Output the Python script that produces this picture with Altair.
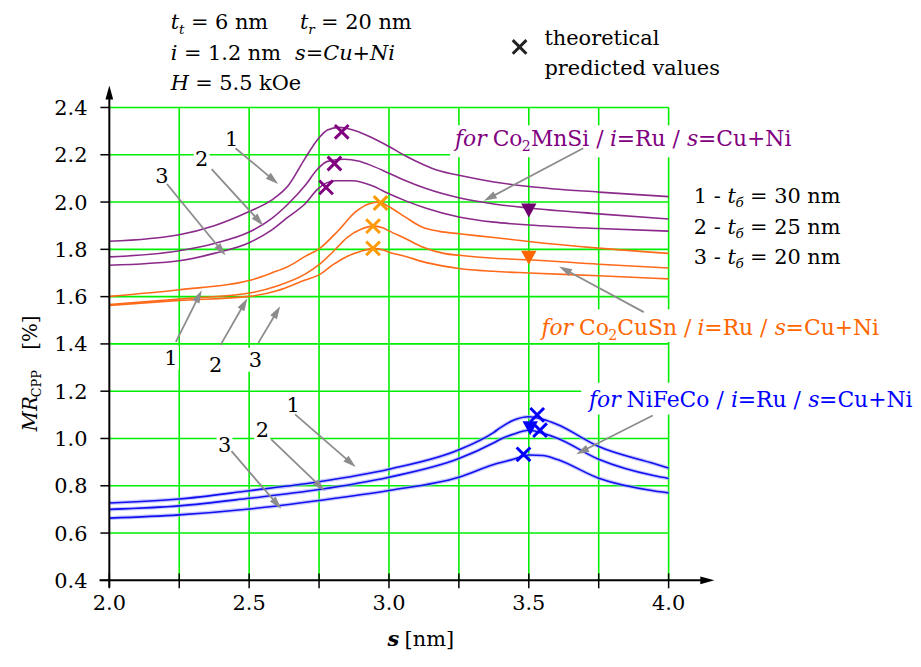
import math
import altair as alt
import pandas as pd

# ---------------- chart values ----------------
# Co2MnSi / i=Ru / s=Cu+Ni  (purple); curves 1, 2, 3 : t_b = 30, 25, 20 nm
s_mnsi_1 = [2.0, 2.25, 2.375, 2.5, 2.58, 2.64, 2.70, 2.745, 2.78, 2.82, 2.88, 2.94, 3.0, 3.06, 3.12, 3.18, 3.25, 3.375, 3.5, 3.75, 4.0]
mr_mnsi_1 = [1.834, 1.862, 1.900, 1.960, 2.008, 2.070, 2.185, 2.265, 2.305, 2.316, 2.302, 2.272, 2.235, 2.195, 2.160, 2.132, 2.113, 2.085, 2.066, 2.042, 2.023]
s_mnsi_2 = [2.0, 2.25, 2.375, 2.5, 2.58, 2.64, 2.70, 2.745, 2.78, 2.84, 2.89, 2.94, 3.0, 3.06, 3.13, 3.25, 3.375, 3.5, 3.75, 4.0]
mr_mnsi_2 = [1.768, 1.794, 1.825, 1.873, 1.930, 1.993, 2.070, 2.140, 2.172, 2.181, 2.174, 2.153, 2.122, 2.090, 2.058, 2.018, 1.992, 1.975, 1.950, 1.928]
s_mnsi_3 = [2.0, 2.25, 2.375, 2.5, 2.58, 2.64, 2.70, 2.745, 2.775, 2.81, 2.87, 2.94, 3.0, 3.06, 3.13, 3.25, 3.375, 3.5, 3.75, 4.0]
mr_mnsi_3 = [1.733, 1.752, 1.783, 1.828, 1.881, 1.937, 1.993, 2.055, 2.080, 2.090, 2.090, 2.069, 2.035, 2.005, 1.975, 1.937, 1.915, 1.903, 1.888, 1.877]

# Co2CuSn / i=Ru / s=Cu+Ni  (orange)
s_cusn_1 = [2.0, 2.25, 2.5, 2.58, 2.64, 2.70, 2.75, 2.82, 2.88, 2.93, 2.965, 3.0, 3.06, 3.12, 3.18, 3.25, 3.375, 3.5, 3.75, 4.0]
mr_cusn_1 = [1.601, 1.629, 1.668, 1.700, 1.728, 1.770, 1.802, 1.881, 1.958, 1.993, 2.000, 1.980, 1.935, 1.893, 1.876, 1.866, 1.850, 1.833, 1.805, 1.783]
s_cusn_2 = [2.0, 2.25, 2.5, 2.6, 2.7, 2.75, 2.8, 2.85, 2.9, 2.945, 2.98, 3.0, 3.06, 3.12, 3.2, 3.25, 3.375, 3.5, 3.75, 4.0]
mr_cusn_2 = [1.567, 1.590, 1.615, 1.645, 1.695, 1.735, 1.790, 1.850, 1.885, 1.898, 1.890, 1.878, 1.845, 1.810, 1.782, 1.775, 1.762, 1.756, 1.737, 1.721]
s_cusn_3 = [2.0, 2.25, 2.5, 2.6, 2.7, 2.75, 2.8, 2.85, 2.9, 2.945, 2.98, 3.0, 3.06, 3.12, 3.2, 3.25, 3.375, 3.5, 3.75, 4.0]
mr_cusn_3 = [1.563, 1.584, 1.601, 1.625, 1.670, 1.692, 1.735, 1.770, 1.792, 1.803, 1.797, 1.788, 1.770, 1.748, 1.728, 1.719, 1.707, 1.700, 1.688, 1.675]

# NiFeCo / i=Ru / s=Cu+Ni  (blue)
s_nfc_1 = [2.0, 2.25, 2.5, 2.75, 3.0, 3.25, 3.375, 3.40, 3.445, 3.5, 3.55, 3.6, 3.75, 3.95, 4.0]
mr_nfc_1 = [0.727, 0.744, 0.779, 0.817, 0.870, 0.952, 1.026, 1.047, 1.077, 1.092, 1.081, 1.060, 0.966, 0.893, 0.875]
s_nfc_2 = [2.0, 2.25, 2.5, 2.75, 3.0, 3.25, 3.375, 3.40, 3.445, 3.5, 3.55, 3.6, 3.75, 3.95, 4.0]
mr_nfc_2 = [0.700, 0.715, 0.747, 0.784, 0.836, 0.915, 0.982, 0.998, 1.018, 1.035, 1.022, 1.002, 0.912, 0.842, 0.831]
s_nfc_3 = [2.0, 2.25, 2.5, 2.75, 3.0, 3.25, 3.375, 3.445, 3.5, 3.55, 3.6, 3.75, 3.95, 4.0]
mr_nfc_3 = [0.663, 0.677, 0.702, 0.738, 0.780, 0.836, 0.890, 0.912, 0.930, 0.928, 0.912, 0.832, 0.778, 0.770]

# theoretical predicted values (crosses)
cross_mnsi_s = [2.831, 2.805, 2.775]
cross_mnsi_mr = [2.297, 2.163, 2.062]
cross_cusn_s = [2.970, 2.943, 2.943]
cross_cusn_mr = [1.996, 1.898, 1.804]
cross_nfc_s = [3.530, 3.540, 3.481]
cross_nfc_mr = [1.100, 1.035, 0.933]

# measured points (down triangles)
tri_s = [3.500, 3.500, 3.505]
tri_mr = [1.966, 1.766, 1.045]

x_ticks = [2.0, 2.25, 2.5, 2.75, 3.0, 3.25, 3.5, 3.75, 4.0]
x_tick_labels = ["2.0", "2.5", "3.0", "3.5", "4.0"]
y_ticks = [0.4, 0.6, 0.8, 1.0, 1.2, 1.4, 1.6, 1.8, 2.0, 2.2, 2.4]
y_tick_labels = ["0.4", "0.6", "0.8", "1.0", "1.2", "1.4", "1.6", "1.8", "2.0", "2.2", "2.4"]

# ---------------- styling / layout ----------------
W, H = 563, 476
PXX = W / 2.0   # px per nm
PXY = H / 2.0   # px per %
FONT = "DejaVu Serif"
GREEN = "#00EE00"
PURPLE_L, PURPLE_M = "#8A2A8A", "#800080"
ORANGE_L, ORANGE_M, ORANGE_X = "#FF6A1A", "#FF6600", "#FF9A00"
BLUE_L, BLUE_M = "#1010F0", "#0000FF"
GRAY = "#8C8C8C"

XS = alt.Scale(domain=[2.0, 4.0], nice=False, zero=False)
YS = alt.Scale(domain=[0.4, 2.4], nice=False, zero=False)


def X(f="x"):
    return alt.X(f"{f}:Q", scale=XS, axis=None)


def Y(f="y"):
    return alt.Y(f"{f}:Q", scale=YS, axis=None)


EM = {' ': 0.318, '.': 0.318, '/': 0.337, '=': 0.838, '+': 0.838, '-': 0.338, '[': 0.390, ']': 0.390,
      '%': 0.950, 'C': 0.734, 'M': 0.996, 'N': 0.837, 'R': 0.770, 'S': 0.685, 'F': 0.720, 'O': 0.820,
      'H': 0.872, 'P': 0.660, 'a': 0.596, 'c': 0.560, 'd': 0.640, 'e': 0.592, 'f': 0.370, 'h': 0.640,
      'i': 0.320, 'k': 0.617, 'l': 0.320, 'm': 0.948, 'n': 0.640, 'o': 0.602, 'p': 0.640, 'r': 0.478,
      's': 0.513, 't': 0.402, 'u': 0.640, 'v': 0.565, 'б': 0.602}
for d in "0123456789":
    EM[d] = 0.636


def tw(s, size):
    return sum(EM.get(c, 0.6) for c in s) * size


rows = []


def add(x, y, text, size, color="black", style="normal", weight="normal", align="left", angle=0):
    rows.append(dict(x=x, y=y, text=text, size=size, color=color, style=style,
                     weight=weight, align=align, angle=angle))


def rich(x0, y0, segs, size=21, color="black", rot=False):
    off = 0.0
    for text, kind in segs:
        sub = kind in ("sub", "isub")
        s = size * 0.65 if sub else size
        style = "italic" if kind in ("i", "isub", "bi") else "normal"
        weight = "bold" if kind == "bi" else "normal"
        drop = size * 0.22 if sub else 0.0
        lead = len(text) - len(text.lstrip(" "))
        o = off + lead * EM[' '] * s
        if rot:
            add(x0 + drop / PXX, y0 + o / PXY, text.strip(), s, color, style, weight, "left", 270)
        else:
            add(x0 + o / PXX, y0 - drop / PXY, text.strip(), s, color, style, weight, "left", 0)
        off += tw(text, s) * (1.0 if style == "normal" else 0.97)


# top-left parameters
rich(2.220, 2.732, [("t", "i"), ("t", "isub"), (" = 6 nm", "n")])
rich(2.682, 2.732, [("t", "i"), ("r", "isub"), (" = 20 nm", "n")])
rich(2.220, 2.602, [("i", "i"), (" = 1.2 nm", "n")])
rich(2.664, 2.602, [("s=Cu+Ni", "i")])
rich(2.220, 2.476, [("H", "i"), (" = 5.5 kOe", "n")])
# legend
rich(3.556, 2.665, [("theoretical", "n")])
rich(3.556, 2.539, [("predicted values", "n")])
# thickness legend on the right
for lab, yy, tb in [("1", 1.997, "30"), ("2", 1.866, "25"), ("3", 1.740, "20")]:
    rich(4.090, yy, [(lab + " - ", "n"), ("t", "i"), ("б", "isub"), (" = " + tb + " nm", "n")])
# family labels
rich(3.236, 2.236, [("for", "i"), (" Co", "n"), ("2", "sub"), ("MnSi / ", "n"), ("i", "i"),
                    ("=Ru / ", "n"), ("s", "i"), ("=Cu+Ni", "n")], size=22, color=PURPLE_M)
rich(3.545, 1.438, [("for", "i"), (" Co", "n"), ("2", "sub"), ("CuSn / ", "n"), ("i", "i"),
                    ("=Ru / ", "n"), ("s", "i"), ("=Cu+Ni", "n")], size=22, color=ORANGE_M)
rich(3.715, 1.135, [("for", "i"), (" NiFeCo / ", "n"), ("i", "i"),
                    ("=Ru / ", "n"), ("s", "i"), ("=Cu+Ni", "n")], size=22, color=BLUE_M)
# axis titles
rich(1.7407, 1.030, [("MR", "i"), ("CPP", "sub")], size=20, rot=True)
rich(1.7407, 1.375, [("[%]", "n")], size=20, rot=True)
rich(2.995, 0.124, [("s", "bi"), (" [nm]", "n")], size=21)

# curve number labels (centres)
num_labels = [("1", 2.437, 2.270), ("2", 2.330, 2.182), ("3", 2.188, 2.110),
              ("1", 2.220, 1.341), ("2", 2.380, 1.312), ("3", 2.522, 1.333),
              ("1", 2.657, 1.144), ("2", 2.547, 1.039), ("3", 2.412, 0.976)]
for t, xx, yy in num_labels:
    add(xx, yy - 7.5 / PXY, t, 21, align="center")

# tick labels
for lab in x_tick_labels:
    add(float(lab), 0.4 - 30 / PXY, lab, 21, align="center")
for lab in y_tick_labels:
    add(1.922, float(lab) - 7.5 / PXY, lab, 21, align="right")

# ---------------- frames ----------------
curves = [("mnsi", s_mnsi_1, mr_mnsi_1, PURPLE_L), ("mnsi", s_mnsi_2, mr_mnsi_2, PURPLE_L),
          ("mnsi", s_mnsi_3, mr_mnsi_3, PURPLE_L), ("cusn", s_cusn_1, mr_cusn_1, ORANGE_L),
          ("cusn", s_cusn_2, mr_cusn_2, ORANGE_L), ("cusn", s_cusn_3, mr_cusn_3, ORANGE_L),
          ("nfc", s_nfc_1, mr_nfc_1, BLUE_L), ("nfc", s_nfc_2, mr_nfc_2, BLUE_L),
          ("nfc", s_nfc_3, mr_nfc_3, BLUE_L)]
crv = []
for i, (fam, ss, mm, col) in enumerate(curves):
    for s, m in zip(ss, mm):
        crv.append(dict(curve=f"c{i}", fam=fam, x=s, y=m, col=col))
crv = pd.DataFrame(crv)
crv_blue = crv[crv["fam"] == "nfc"]

grid_v = pd.DataFrame([dict(x=v, y=0.4, y2=2.4) for v in x_ticks[1:]])
grid_h = pd.DataFrame([dict(x=2.0, x2=4.0, y=v) for v in y_ticks[1:]])

boxes = [dict(x=3.2185, x2=4.4938, y=2.1899, y2=2.3244),
         dict(x=3.5204, x2=4.7709, y=1.4084, y2=1.5471),
         dict(x=3.6874, x2=4.8703, y=1.1017, y2=1.2361)]
for t, xx, yy in num_labels:
    boxes.append(dict(x=xx - 8 / PXX, x2=xx + 8 / PXX, y=yy - 12 / PXY, y2=yy + 12 / PXY))
boxes = pd.DataFrame(boxes)

axis_rules = [dict(x=2.0, x2=2.0, y=0.37, y2=2.455, w=2.0),
              dict(x=1.965, x2=4.13, y=0.4, y2=0.4, w=2.0)]
for v in x_ticks:
    axis_rules.append(dict(x=v, x2=v, y=0.4 - 8 / PXY, y2=0.4 + 7 / PXY, w=1.5))
for v in y_ticks:
    axis_rules.append(dict(x=2.0 - 9 / PXX, x2=2.0, y=v, y2=v, w=1.5))
axis_rules = pd.DataFrame(axis_rules)
axis_heads = pd.DataFrame([dict(x=2.0, y=2.463, ang=0), dict(x=4.1385, y=0.4, ang=90)])

arrow_list = [  # tail (s, MR) -> tip (s, MR)
    (2.4512, 2.2277, 2.6039, 2.0765), (2.3659, 2.1395, 2.5506, 1.9000), (2.2060, 2.0765, 2.4156, 1.7739),
    (2.2380, 1.4084, 2.3304, 1.6269), (2.3979, 1.3958, 2.4938, 1.5933), (2.5329, 1.4042, 2.6110, 1.5597),
    (2.6643, 1.1017, 2.8810, 0.8790), (2.5790, 0.9966, 2.7709, 0.7782), (2.4369, 0.9462, 2.6146, 0.7025),
    (3.6945, 2.2277, 3.3393, 2.0050), (3.9112, 1.5345, 3.6085, 1.7277), (3.9432, 1.0975, 3.6696, 0.9336)]
HEAD_R = 6.5
ar_lines, ar_heads = [], []
for tx, ty, hx, hy in arrow_list:
    dxp = (hx - tx) * PXX
    dyp = -(hy - ty) * PXY
    L = math.hypot(dxp, dyp)
    ux, uy = dxp / L, dyp / L
    cx = hx - ux * HEAD_R / PXX
    cy = hy + uy * HEAD_R / PXY
    ang = math.degrees(math.atan2(ux, -uy)) % 360
    ar_lines.append(dict(x=tx, y=ty, x2=cx, y2=cy))
    ar_heads.append(dict(x=cx, y=cy, ang=ang))
ar_lines = pd.DataFrame(ar_lines)
ar_heads = pd.DataFrame(ar_heads)

crosses = pd.DataFrame(
    [dict(x=a, y=b, col=PURPLE_M) for a, b in zip(cross_mnsi_s, cross_mnsi_mr)] +
    [dict(x=a, y=b, col=ORANGE_X) for a, b in zip(cross_cusn_s, cross_cusn_mr)] +
    [dict(x=a, y=b, col=BLUE_M) for a, b in zip(cross_nfc_s, cross_nfc_mr)] +
    [dict(x=3.467, y=2.656, col="#222222")])
tris = pd.DataFrame([dict(x=a, y=b, col=c) for a, b, c in zip(tri_s, tri_mr, ["#700070", ORANGE_M, BLUE_M])])

# ---------------- layers ----------------
layers = []
layers.append(alt.Chart(grid_v).mark_rule(color=GREEN, strokeWidth=1.6).encode(
    x=X(), y=Y(), y2=alt.Y2("y2:Q")))
layers.append(alt.Chart(grid_h).mark_rule(color=GREEN, strokeWidth=1.6).encode(
    x=X(), x2=alt.X2("x2:Q"), y=Y()))
layers.append(alt.Chart(boxes).mark_rect(color="white", opacity=1).encode(
    x=X(), x2=alt.X2("x2:Q"), y=Y(), y2=alt.Y2("y2:Q")))
layers.append(alt.Chart(crv_blue).mark_line(interpolate="monotone", strokeWidth=4, color="#A8A8FF",
                                            opacity=0.6).encode(
    x=X(), y=Y(), detail="curve:N"))
layers.append(alt.Chart(crv).mark_line(interpolate="monotone", strokeWidth=1.6).encode(
    x=X(), y=Y(), detail="curve:N", color=alt.Color("col:N", scale=None)))
layers.append(alt.Chart(axis_rules).mark_rule(color="black").encode(
    x=X(), x2=alt.X2("x2:Q"), y=Y(), y2=alt.Y2("y2:Q"), strokeWidth=alt.StrokeWidth("w:Q", scale=None)))
layers.append(alt.Chart(axis_heads).mark_point(shape="M0,-1L0.55,1L-0.55,1Z", filled=True, size=200,
                                               color="black", opacity=1).encode(
    x=X(), y=Y(), angle=alt.Angle("ang:Q", scale=None)))
layers.append(alt.Chart(ar_lines).mark_rule(color=GRAY, strokeWidth=1.8).encode(
    x=X(), x2=alt.X2("x2:Q"), y=Y(), y2=alt.Y2("y2:Q")))
layers.append(alt.Chart(ar_heads).mark_point(shape="M0,-1L0.6,1L-0.6,1Z", filled=True,
                                             size=(2 * HEAD_R) ** 2, color=GRAY, opacity=1).encode(
    x=X(), y=Y(), angle=alt.Angle("ang:Q", scale=None)))
layers.append(alt.Chart(crosses).mark_point(shape="M-1,-1L1,1M-1,1L1,-1", filled=False, size=190,
                                            strokeWidth=3, opacity=1).encode(
    x=X(), y=Y(), color=alt.Color("col:N", scale=None)))
layers.append(alt.Chart(tris).mark_point(shape="M-1,-0.85L1,-0.85L0,0.95Z", filled=True, size=240,
                                         opacity=1).encode(
    x=X(), y=Y(), color=alt.Color("col:N", scale=None)))

tdf = pd.DataFrame(rows)
for (style, weight, align), g in tdf.groupby(["style", "weight", "align"]):
    layers.append(alt.Chart(g).mark_text(font=FONT, fontStyle=style, fontWeight=weight, align=align,
                                         baseline="alphabetic").encode(
        x=X(), y=Y(), text="text:N", size=alt.Size("size:Q", scale=None),
        color=alt.Color("color:N", scale=None), angle=alt.Angle("angle:Q", scale=None)))

chart = alt.layer(*layers).properties(
    width=W, height=H,
    padding={"left": 102, "top": 98, "right": 246, "bottom": 71},
    autosize=alt.AutoSizeParams(type="none"),
    background="white",
).configure_view(stroke=None)

chart.save("out.html", embed_options={"renderer": "svg", "actions": False})
